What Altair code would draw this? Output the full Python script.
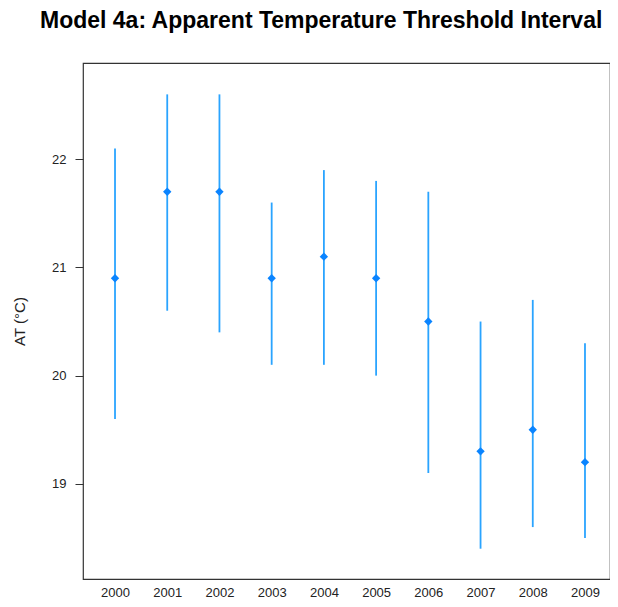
import altair as alt
import pandas as pd

years = [2000, 2001, 2002, 2003, 2004, 2005, 2006, 2007, 2008, 2009]
estimate = [20.9, 21.7, 21.7, 20.9, 21.1, 20.9, 20.5, 19.3, 19.5, 19.2]
lower = [19.6, 20.6, 20.4, 20.1, 20.1, 20.0, 19.1, 18.4, 18.6, 18.5]
upper = [22.1, 22.6, 22.6, 21.6, 21.9, 21.8, 21.7, 20.5, 20.7, 20.3]
y_ticks = [19, 20, 21, 22]

df = pd.DataFrame({"year": years, "est": estimate, "lo": lower, "hi": upper})

xs = alt.Scale(domain=[1999.387, 2009.479], nice=False, zero=False)
ys = alt.Scale(domain=[18.12, 22.89], nice=False, zero=False)

xax = alt.Axis(values=years, format="d", title=None, ticks=False, domain=False,
               grid=False, labelFontSize=13, labelColor="#222", labelPadding=7,
               labelFont="Liberation Sans")
yax = alt.Axis(values=y_ticks, title="AT (°C)", tickSize=8, tickColor="#333",
               domain=False, grid=False, labelFontSize=13, labelColor="#222",
               labelPadding=9, titleFontSize=15, titleFontWeight="normal",
               titleColor="#222", titlePadding=24, labelFont="Liberation Sans",
               titleFont="Liberation Sans")
yax_r = alt.Axis(values=y_ticks, title=None, labels=False, tickSize=5, tickColor="#333",
                 domain=False, grid=False, orient="right")

base = alt.Chart(df)
rules = base.mark_rule(color="#2aa4ff", strokeWidth=1.8).encode(
    x=alt.X("year:Q", scale=xs, axis=xax),
    y=alt.Y("lo:Q", scale=ys, axis=yax),
    y2="hi:Q",
)
pts = base.mark_point(shape="diamond", filled=True, color="#0a84ff", size=70, opacity=1).encode(
    x=alt.X("year:Q", scale=xs),
    y=alt.Y("est:Q", scale=ys, axis=yax_r),
)

chart = alt.layer(rules, pts).resolve_axis(y="independent").properties(
    width=527, height=516,
    title=alt.TitleParams("Model 4a: Apparent Temperature Threshold Interval",
                          anchor="start", frame="group", dx=-43, offset=30, fontSize=23,
                          fontWeight="bold", font="Liberation Sans", color="#000"),
    autosize=alt.AutoSizeParams(type="none"),
    padding={"left": 75, "top": 55, "right": 0, "bottom": 20},
).configure(background="white", view=alt.ViewConfig(stroke="#333", strokeWidth=1.2))

chart.save("out.html", embed_options={"renderer": "svg", "actions": False})
